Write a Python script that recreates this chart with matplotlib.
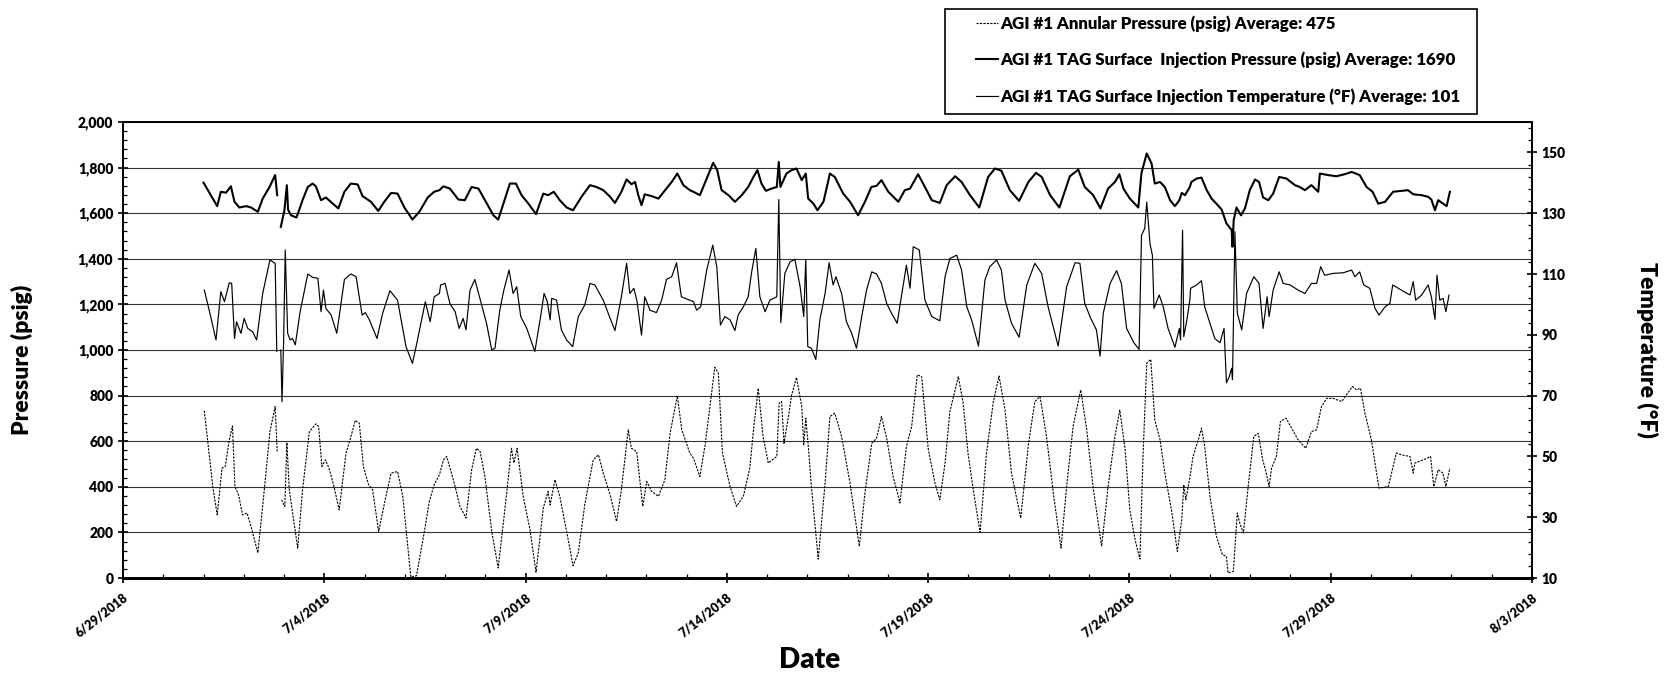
import numpy as np
import pandas as pd
import matplotlib
matplotlib.use('Agg')
import matplotlib.pyplot as plt
from matplotlib.ticker import MultipleLocator, FixedLocator
from matplotlib.patches import Rectangle

nan = np.nan

# day offsets from 6/29/2018 and readings
injection_points = [
    (2.00, 1734), (2.34, 1631), (2.43, 1694), (2.56, 1690), (2.68, 1718), (2.77, 1650), (2.89, 1625),
    (3.06, 1631), (3.18, 1625), (3.35, 1606), (3.47, 1664), (3.64, 1715), (3.78, 1767), (3.83, 1679),
    (3.87, nan), (3.92, 1540), (4.01, 1613), (4.07, 1723), (4.10, 1616), (4.17, 1591), (4.31, 1581),
    (4.46, 1657), (4.59, 1715), (4.71, 1730), (4.79, 1718), (4.92, 1657), (5.04, 1669), (5.21, 1642),
    (5.35, 1621), (5.50, 1694), (5.66, 1730), (5.83, 1726), (5.95, 1675), (6.16, 1650), (6.34, 1610),
    (6.49, 1650), (6.66, 1689), (6.82, 1686), (6.99, 1625), (7.19, 1572), (7.36, 1606), (7.57, 1669),
    (7.73, 1694), (7.86, 1701), (7.96, 1718), (8.12, 1708), (8.33, 1660), (8.49, 1657), (8.66, 1715),
    (8.83, 1708), (8.99, 1657), (9.20, 1591), (9.32, 1572), (9.45, 1642), (9.61, 1730), (9.76, 1730),
    (9.90, 1679), (10.07, 1642), (10.26, 1596), (10.44, 1686), (10.56, 1679), (10.70, 1694), (10.85, 1657),
    (11.02, 1625), (11.18, 1613), (11.39, 1672), (11.60, 1723), (11.76, 1715), (11.93, 1701), (12.10, 1672),
    (12.22, 1645), (12.38, 1694), (12.51, 1748), (12.63, 1727), (12.72, 1737), (12.80, 1679), (12.88, 1635),
    (12.96, 1683), (13.13, 1675), (13.30, 1664), (13.50, 1708), (13.63, 1737), (13.77, 1774), (13.92, 1723),
    (14.08, 1701), (14.17, 1694), (14.33, 1679), (14.50, 1752), (14.66, 1821), (14.76, 1789), (14.87, 1701),
    (15.04, 1679), (15.20, 1650), (15.37, 1679), (15.53, 1715), (15.66, 1759), (15.76, 1789), (15.86, 1730),
    (15.97, 1698), (16.11, 1708), (16.24, 1715), (16.29, 1825), (16.33, 1715), (16.48, 1774), (16.61, 1789),
    (16.73, 1796), (16.86, 1745), (16.96, 1774), (17.02, 1664), (17.15, 1642), (17.25, 1613), (17.40, 1650),
    (17.56, 1774), (17.68, 1759), (17.89, 1686), (18.06, 1650), (18.26, 1591), (18.43, 1650), (18.59, 1715),
    (18.72, 1720), (18.84, 1745), (19.01, 1694), (19.26, 1650), (19.42, 1701), (19.55, 1708), (19.75, 1771),
    (19.92, 1715), (20.09, 1657), (20.29, 1645), (20.46, 1723), (20.67, 1762), (20.83, 1737), (21.04, 1679),
    (21.27, 1625), (21.49, 1759), (21.66, 1796), (21.82, 1786), (22.03, 1701), (22.26, 1654), (22.49, 1737),
    (22.68, 1777), (22.82, 1759), (23.03, 1679), (23.26, 1625), (23.52, 1762), (23.73, 1791), (23.89, 1715),
    (24.10, 1679), (24.28, 1621), (24.47, 1708), (24.64, 1737), (24.75, 1771), (24.85, 1708), (25.01, 1664),
    (25.22, 1625), (25.30, 1777), (25.43, 1862), (25.55, 1818), (25.63, 1730), (25.76, 1737), (25.88, 1715),
    (26.01, 1657), (26.13, 1631), (26.24, 1657), (26.30, 1689), (26.38, 1679), (26.50, 1715), (26.54, 1737),
    (26.67, 1752), (26.79, 1756), (26.92, 1701), (27.04, 1664), (27.16, 1642), (27.29, 1616), (27.41, 1555),
    (27.54, 1526), (27.56, 1453), (27.59, 1570), (27.66, 1625), (27.77, 1591), (27.87, 1621), (27.99, 1701),
    (28.12, 1748), (28.22, 1737), (28.32, 1669), (28.45, 1657), (28.57, 1686), (28.72, 1759), (28.90, 1752),
    (29.11, 1723), (29.23, 1715), (29.36, 1701), (29.52, 1723), (29.69, 1694), (29.73, 1774), (29.94, 1767),
    (30.14, 1762), (30.35, 1771), (30.52, 1781), (30.72, 1767), (30.89, 1715), (31.04, 1694), (31.18, 1642),
    (31.35, 1650), (31.55, 1694), (31.76, 1698), (31.92, 1701), (32.05, 1683), (32.26, 1679), (32.42, 1672),
    (32.50, 1660), (32.59, 1613), (32.67, 1657), (32.79, 1642), (32.88, 1631), (32.96, 1694),
]

temperature_points = [
    (2.02, 104.7), (2.15, 97.6), (2.31, 88.3), (2.43, 104.2), (2.52, 100.9), (2.64, 107.1), (2.70, 106.9),
    (2.77, 88.8), (2.82, 94.3), (2.93, 90.5), (3.01, 95.4), (3.10, 92.1), (3.22, 91.0), (3.32, 88.3),
    (3.47, 103.6), (3.65, 114.6), (3.78, 113.5), (3.82, 84.5), (3.87, nan), (3.92, 85.0), (3.95, 68.0),
    (3.99, 88.0), (4.03, 117.9), (4.09, 90.5), (4.15, 88.3), (4.21, 88.8), (4.28, 86.7), (4.40, 97.6),
    (4.59, 110.0), (4.71, 108.9), (4.84, 108.6), (4.92, 97.6), (4.98, 104.7), (5.04, 98.7), (5.17, 96.5),
    (5.31, 90.5), (5.50, 108.2), (5.66, 110.0), (5.79, 109.1), (5.94, 96.5), (6.02, 97.3), (6.12, 94.9),
    (6.31, 88.8), (6.45, 97.1), (6.63, 104.5), (6.82, 101.4), (7.03, 86.1), (7.19, 80.6), (7.29, 86.7),
    (7.51, 100.9), (7.63, 94.3), (7.73, 102.5), (7.86, 103.6), (7.89, 106.4), (8.00, 106.9), (8.12, 100.3),
    (8.25, 97.6), (8.35, 92.1), (8.45, 95.4), (8.52, 91.6), (8.62, 104.7), (8.74, 108.2), (8.91, 99.8),
    (9.03, 93.8), (9.16, 85.0), (9.24, 85.6), (9.36, 98.1), (9.46, 104.7), (9.59, 111.3), (9.69, 103.6),
    (9.78, 105.8), (9.88, 96.0), (10.03, 92.1), (10.23, 84.5), (10.36, 94.9), (10.46, 103.6), (10.54, 100.9),
    (10.61, 94.9), (10.65, 102.0), (10.77, 101.4), (10.89, 91.6), (11.02, 88.3), (11.17, 86.1), (11.31, 96.0),
    (11.47, 99.8), (11.60, 106.9), (11.72, 106.4), (11.93, 101.4), (12.10, 95.4), (12.22, 91.4), (12.38, 102.5),
    (12.51, 113.5), (12.59, 103.6), (12.69, 105.3), (12.77, 100.9), (12.88, 89.9), (12.96, 102.5), (13.09, 98.1),
    (13.25, 97.3), (13.38, 101.4), (13.50, 108.2), (13.63, 109.1), (13.75, 113.7), (13.87, 102.5), (14.08, 101.4),
    (14.17, 100.9), (14.25, 98.1), (14.35, 99.2), (14.50, 111.3), (14.65, 119.5), (14.75, 112.4), (14.84, 93.2),
    (14.95, 96.0), (15.08, 94.9), (15.20, 91.4), (15.28, 96.5), (15.41, 99.2), (15.53, 102.5), (15.61, 110.2),
    (15.72, 118.4), (15.82, 102.5), (15.95, 97.6), (16.07, 101.4), (16.24, 102.5), (16.29, 134.5), (16.34, 94.0),
    (16.44, 110.2), (16.57, 114.0), (16.69, 114.8), (16.82, 105.8), (16.91, 96.0), (16.96, 114.8), (17.01, 86.1),
    (17.10, 85.6), (17.21, 81.9), (17.31, 94.9), (17.44, 103.6), (17.54, 113.7), (17.64, 106.4), (17.71, 109.1),
    (17.85, 103.6), (17.97, 94.3), (18.10, 90.5), (18.22, 85.6), (18.35, 96.0), (18.47, 104.7), (18.60, 110.7),
    (18.72, 110.0), (18.84, 106.9), (18.97, 100.3), (19.09, 97.1), (19.23, 93.8), (19.36, 104.7), (19.46, 112.9),
    (19.55, 105.3), (19.63, 119.0), (19.78, 117.9), (19.92, 101.4), (20.09, 96.0), (20.29, 94.6), (20.42, 109.1),
    (20.54, 115.1), (20.71, 116.2), (20.83, 111.3), (20.96, 99.2), (21.08, 94.9), (21.25, 86.3), (21.41, 108.0),
    (21.53, 112.4), (21.70, 114.6), (21.82, 111.3), (21.91, 101.4), (22.07, 93.8), (22.26, 89.2), (22.45, 106.4),
    (22.65, 113.5), (22.82, 110.2), (22.98, 99.2), (23.23, 86.3), (23.44, 105.8), (23.65, 113.7), (23.77, 113.5),
    (23.89, 100.3), (24.04, 95.4), (24.18, 91.6), (24.27, 83.0), (24.35, 97.1), (24.52, 106.9), (24.68, 111.1),
    (24.80, 106.9), (24.93, 92.1), (25.11, 87.4), (25.24, 85.2), (25.30, 122.8), (25.38, 125.0), (25.43, 133.7),
    (25.51, 120.0), (25.57, 116.2), (25.61, 98.7), (25.74, 103.1), (25.84, 99.2), (25.96, 92.1), (26.13, 85.9),
    (26.24, 92.1), (26.27, 88.3), (26.32, 124.4), (26.35, 89.4), (26.42, 94.3), (26.50, 101.4), (26.52, 105.3),
    (26.67, 106.4), (26.79, 107.8), (26.87, 99.2), (27.00, 93.8), (27.12, 88.8), (27.25, 87.4), (27.35, 92.1),
    (27.41, 74.2), (27.48, 76.2), (27.54, 79.0), (27.56, 75.2), (27.62, 123.9), (27.68, 97.1), (27.79, 91.6),
    (27.91, 103.6), (28.09, 109.1), (28.22, 106.9), (28.32, 92.1), (28.42, 102.5), (28.47, 96.0), (28.57, 104.7),
    (28.72, 110.7), (28.82, 106.9), (28.99, 106.4), (29.19, 104.7), (29.36, 103.6), (29.52, 106.9), (29.65, 106.9),
    (29.75, 112.4), (29.85, 109.6), (30.06, 110.2), (30.31, 110.4), (30.52, 111.3), (30.60, 109.1), (30.72, 110.7),
    (30.82, 106.4), (30.97, 105.3), (31.10, 98.7), (31.20, 96.5), (31.35, 99.2), (31.47, 100.3), (31.54, 106.4),
    (31.68, 105.3), (31.82, 104.2), (31.97, 103.1), (32.05, 107.5), (32.11, 101.4), (32.26, 103.1), (32.42, 106.4),
    (32.50, 102.5), (32.59, 95.1), (32.64, 109.6), (32.71, 101.4), (32.79, 102.0), (32.86, 97.6), (32.94, 103.1),
]

annular_points = [
    (2.02, 734), (2.10, 606), (2.23, 401), (2.34, 277), (2.46, 482), (2.54, 489), (2.64, 606), (2.72, 667),
    (2.78, 401), (2.87, 365), (2.97, 277), (3.08, 285), (3.18, 226), (3.35, 110), (3.51, 387), (3.65, 642),
    (3.78, 752), (3.83, 555), (3.87, nan), (3.94, 343), (4.02, 314), (4.07, 594), (4.13, 387), (4.34, 131),
    (4.46, 387), (4.63, 642), (4.79, 676), (4.86, 664), (4.94, 489), (5.03, 518), (5.13, 475), (5.25, 394),
    (5.37, 299), (5.54, 548), (5.64, 606), (5.77, 691), (5.87, 679), (5.97, 489), (6.10, 409), (6.20, 387),
    (6.35, 204), (6.53, 358), (6.66, 460), (6.82, 467), (6.95, 358), (7.15, 4), (7.29, 10), (7.48, 197),
    (7.61, 336), (7.73, 409), (7.86, 453), (7.96, 518), (8.04, 533), (8.16, 460), (8.25, 401), (8.37, 314),
    (8.52, 263), (8.66, 475), (8.78, 569), (8.87, 555), (8.99, 445), (9.16, 204), (9.32, 44), (9.49, 307),
    (9.65, 569), (9.71, 504), (9.79, 569), (9.94, 358), (10.11, 212), (10.26, 25), (10.44, 307), (10.56, 380),
    (10.61, 321), (10.73, 431), (10.85, 358), (11.02, 204), (11.18, 54), (11.31, 110), (11.47, 321), (11.68, 518),
    (11.81, 540), (11.93, 460), (12.10, 365), (12.26, 248), (12.38, 387), (12.55, 650), (12.63, 569), (12.76, 555),
    (12.91, 314), (13.01, 423), (13.13, 380), (13.30, 358), (13.46, 431), (13.59, 635), (13.77, 799), (13.88, 650),
    (14.08, 548), (14.17, 526), (14.33, 445), (14.46, 584), (14.58, 752), (14.70, 924), (14.79, 898), (14.89, 548),
    (15.08, 401), (15.24, 314), (15.41, 358), (15.57, 482), (15.67, 664), (15.78, 832), (15.90, 620), (16.03, 504),
    (16.24, 533), (16.30, 767), (16.36, 774), (16.42, 591), (16.53, 708), (16.61, 803), (16.73, 880), (16.86, 752),
    (16.91, 584), (16.96, 701), (17.02, 584), (17.10, 401), (17.27, 83), (17.44, 416), (17.56, 708), (17.68, 723),
    (17.85, 621), (18.06, 416), (18.29, 139), (18.43, 372), (18.60, 591), (18.72, 613), (18.84, 708), (18.97, 613),
    (19.13, 445), (19.30, 329), (19.46, 577), (19.59, 664), (19.73, 891), (19.84, 883), (20.00, 569), (20.17, 416),
    (20.29, 343), (20.42, 504), (20.54, 730), (20.75, 883), (20.87, 767), (20.99, 548), (21.12, 387), (21.29, 200),
    (21.45, 548), (21.62, 774), (21.76, 886), (21.91, 737), (22.07, 460), (22.30, 263), (22.49, 584), (22.65, 774),
    (22.78, 796), (22.94, 621), (23.12, 358), (23.30, 131), (23.44, 401), (23.60, 664), (23.79, 825), (23.94, 650),
    (24.10, 394), (24.31, 139), (24.47, 401), (24.64, 621), (24.76, 737), (24.89, 569), (25.01, 299), (25.14, 168),
    (25.26, 83), (25.34, 548), (25.43, 942), (25.53, 959), (25.63, 693), (25.76, 606), (25.88, 460), (26.05, 292),
    (26.19, 117), (26.30, 256), (26.35, 409), (26.40, 343), (26.50, 438), (26.58, 533), (26.71, 606), (26.79, 657),
    (26.87, 577), (27.00, 358), (27.16, 183), (27.31, 102), (27.41, 95), (27.45, 22), (27.58, 29), (27.68, 285),
    (27.74, 241), (27.83, 197), (27.95, 401), (28.09, 621), (28.20, 635), (28.31, 518), (28.39, 467), (28.47, 401),
    (28.53, 482), (28.65, 533), (28.75, 686), (28.89, 701), (29.03, 657), (29.19, 606), (29.38, 569), (29.52, 642),
    (29.65, 650), (29.77, 752), (29.90, 788), (30.06, 788), (30.27, 774), (30.39, 803), (30.54, 840), (30.64, 825),
    (30.74, 832), (30.85, 723), (31.01, 606), (31.10, 504), (31.20, 394), (31.43, 401), (31.63, 548), (31.76, 540),
    (31.97, 533), (32.05, 460), (32.09, 504), (32.30, 518), (32.48, 533), (32.56, 401), (32.67, 475), (32.79, 460),
    (32.86, 401), (32.96, 482),
]

x_tick_labels = ['6/29/2018', '7/4/2018', '7/9/2018', '7/14/2018', '7/19/2018',
                 '7/24/2018', '7/29/2018', '8/3/2018']
series_labels = [
    'AGI #1 Annular Pressure (psig) Average: 475',
    'AGI #1 TAG Surface  Injection Pressure (psig) Average: 1690',
    'AGI #1 TAG Surface Injection Temperature (°F) Average: 101',
]

plt.rcParams['font.family'] = ['Lato', 'DejaVu Sans']
plt.rcParams['font.weight'] = 'heavy'

start = pd.Timestamp('2018-06-29')


def to_times(points):
    days, vals = zip(*points)
    return start + pd.to_timedelta(np.array(days), unit='D'), np.array(vals, dtype=float)


ann_t, ann_v = to_times(annular_points)
inj_t, inj_v = to_times(injection_points)
tmp_t, tmp_v = to_times(temperature_points)

W, H = 1669, 679
fig = plt.figure(figsize=(W / 100, H / 100), dpi=100)
ax = fig.add_axes([123 / W, 101 / H, 1409 / W, 456 / H])
ax2 = ax.twinx()

l1, = ax.plot(ann_t, ann_v, color='black', lw=0.8, ls=(0, (2, 1.1)))
l2, = ax.plot(inj_t, inj_v, color='black', lw=1.5)
l3, = ax2.plot(tmp_t, tmp_v, color='black', lw=0.85)

# x axis
x_ticks = pd.date_range(start, periods=len(x_tick_labels), freq='5D')
ax.set_xlim(x_ticks[0], x_ticks[-1])
ax.xaxis.set_major_locator(FixedLocator(matplotlib.dates.date2num(x_ticks)))
ax.set_xticklabels(x_tick_labels, rotation=38, ha='right', rotation_mode='anchor', fontsize=9)
ax.xaxis.set_minor_locator(FixedLocator(matplotlib.dates.date2num(
    pd.date_range(start, x_ticks[-1], freq='1D'))))

# left axis
ax.set_ylim(0, 2000)
ax.set_yticks(np.arange(0, 2001, 200))
ax.set_yticklabels([f'{v:,}' for v in range(0, 2001, 200)], fontsize=10)
ax.yaxis.set_minor_locator(MultipleLocator(40))
ax.yaxis.grid(True, color='#333333', lw=0.8)
ax.set_axisbelow(True)

# right axis
ax2.set_ylim(10, 160)
ax2.set_yticks(np.arange(10, 151, 20))
ax2.yaxis.set_minor_locator(FixedLocator(np.arange(10, 161, 4)))
ax2.tick_params(axis='y', labelsize=10)

for a in (ax, ax2):
    a.tick_params(which='major', direction='inout', length=7, width=1.2, color='black')
    a.tick_params(which='minor', direction='in', length=3, width=0.9, color='black')
    for s in a.spines.values():
        s.set_color('black')
        s.set_linewidth(1.3)
    a.spines['bottom'].set_linewidth(2.0)
ax.tick_params(axis='x', pad=6)

fig.text(0.013, 0.47, 'Pressure (psig)', rotation=90, ha='center', va='center',
         fontsize=16.5)
fig.text(0.987, 0.485, 'Temperature (°F)', rotation=-90, ha='center', va='center',
         fontsize=16.5)
fig.text(0.485, 0.028, 'Date', ha='center', va='center', fontsize=20)

# legend box drawn separately so the padding can match the original
fig.patches.append(Rectangle((945 / W, 1 - 114 / H), 532 / W, 105.5 / H,
                             transform=fig.transFigure, fill=False,
                             edgecolor='black', lw=1.2))
fig.legend([l1, l2, l3], series_labels, loc='upper left',
           bbox_to_anchor=(976 / W, 1 - 15 / H), fontsize=12.2, frameon=False,
           handlelength=1.3, handletextpad=0.15, labelspacing=1.18,
           borderpad=0, borderaxespad=0)

fig.savefig('out.png', dpi=100)
